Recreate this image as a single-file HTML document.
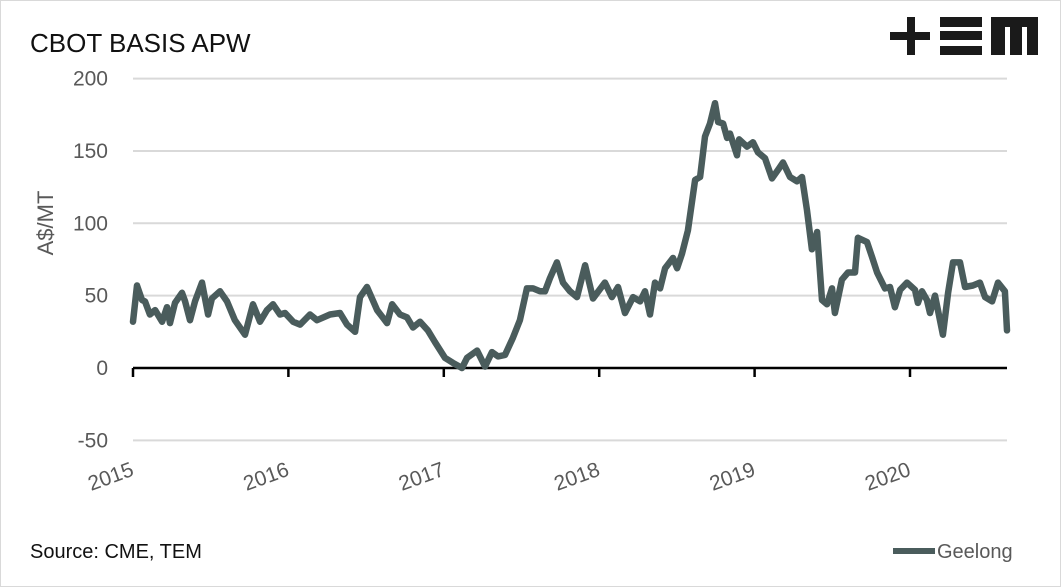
<!DOCTYPE html>
<html><head><meta charset="utf-8"><style>
body{margin:0;background:#fff;}
svg{display:block;font-family:"Liberation Sans",sans-serif;}
</style></head><body>
<svg id="chart" width="1061" height="587" viewBox="0 0 1061 587">
<rect x="0.5" y="0.5" width="1060" height="586" fill="#fff" stroke="#d9d9d9"/>
<text x="30" y="52" font-size="26" fill="#111">CBOT BASIS APW</text>
<g fill="#1a1a1a">
<rect x="890" y="32" width="40" height="8"/><rect x="907" y="17" width="8" height="38"/>
<rect x="940" y="17" width="42" height="10"/><rect x="940" y="31" width="42" height="9"/><rect x="940" y="46" width="42" height="9"/>
<path d="M991 17H1038V55H1027V27H1022V55H1010V27H1005V55H991Z"/>
</g>
<g id="grid"></g>
<g id="yticks" font-size="21" fill="#595959" text-anchor="end"></g>
<text transform="translate(53,223) rotate(-90)" font-size="22" fill="#595959" text-anchor="middle">A$/MT</text>
<g id="xaxis"></g>
<g id="xticks" font-size="21" fill="#595959" text-anchor="end"></g>
<g id="series"></g>
<text x="30" y="558" font-size="20" fill="#111">Source: CME, TEM</text>
<g>
<line x1="893" y1="551" x2="935" y2="551" stroke="#4a5c5c" stroke-width="6"/>
<text x="937" y="558" font-size="20" fill="#595959">Geelong</text>
</g>
</svg>
<script>
const yTicks=[200,150,100,50,0,-50];
const xTickLabels=["2015","2016","2017","2018","2019","2020"];
const dates=[2015.000,2015.026,2015.058,2015.077,2015.109,2015.142,2015.187,2015.219,2015.238,2015.270,2015.315,2015.335,2015.367,2015.399,2015.444,2015.483,2015.508,2015.560,2015.605,2015.656,2015.721,2015.772,2015.817,2015.862,2015.901,2015.946,2015.978,2016.030,2016.075,2016.139,2016.184,2016.268,2016.332,2016.377,2016.429,2016.461,2016.506,2016.571,2016.635,2016.667,2016.718,2016.763,2016.802,2016.847,2016.898,2016.943,2017.008,2017.059,2017.117,2017.149,2017.214,2017.265,2017.310,2017.349,2017.394,2017.445,2017.490,2017.535,2017.574,2017.619,2017.651,2017.683,2017.728,2017.767,2017.812,2017.857,2017.909,2017.960,2018.037,2018.082,2018.121,2018.166,2018.218,2018.263,2018.295,2018.327,2018.359,2018.392,2018.424,2018.475,2018.501,2018.533,2018.571,2018.617,2018.649,2018.681,2018.713,2018.745,2018.765,2018.797,2018.823,2018.842,2018.887,2018.900,2018.951,2018.990,2019.022,2019.067,2019.112,2019.151,2019.183,2019.228,2019.273,2019.305,2019.337,2019.369,2019.402,2019.434,2019.466,2019.498,2019.517,2019.562,2019.601,2019.646,2019.665,2019.723,2019.755,2019.788,2019.839,2019.871,2019.903,2019.936,2019.981,2020.032,2020.051,2020.077,2020.109,2020.129,2020.161,2020.212,2020.245,2020.277,2020.322,2020.354,2020.405,2020.450,2020.483,2020.528,2020.566,2020.611,2020.624];
const geelong=[32,57,47,46,37,40,32,42,31,45,52,46,33,46,59,37,48,53,46,33,23,44,32,40,44,37,38,32,30,37,33,37,38,30,25,49,56,40,31,44,37,35,28,32,26,18,7,3.5,0,7,12,1,11,8,9,21,33,55,55,53,53,62,73,59,53,49,71,48,59,49,56,38,49,46,53,37,59,55,69,76,69,79,95,130,132,160,169,183,170,169,159,162,147,158,153,156,149,145,131,137,142,132,129,132,109,82,94,47,44,55,38,61,66,66,90,87,77,66,55,56,42,54,59,54,45,53,47,38,50,23,52,73,73,56,57,59,49,46,59,53,26];
const NS="http://www.w3.org/2000/svg";
const X0=133,X1=1007,Y0=368,PXY=155.4,PXV=1.447;
function xs(d){return X0+(d-2015)*PXY;}
function ys(v){return Y0-v*PXV;}
function mk(tag,attrs,parent){const e=document.createElementNS(NS,tag);for(const k in attrs)e.setAttribute(k,attrs[k]);parent.appendChild(e);return e;}
const grid=document.getElementById('grid'),yt=document.getElementById('yticks');
yTicks.forEach(v=>{
  if(v!==0){const l=mk('line',{x1:X0,x2:X1,y1:ys(v),y2:ys(v),stroke:'#d9d9d9','stroke-width':2},grid);
  
  }
  const t=mk('text',{x:108,y:ys(v)+7},yt);t.textContent=v;
  
  
});
const xa=document.getElementById('xaxis');
const ax=mk('line',{x1:X0,x2:X1,y1:Y0,y2:Y0,stroke:'#000','stroke-width':2.5},xa);


const xt=document.getElementById('xticks');
xTickLabels.forEach((lab,i)=>{
  const x=xs(2015+i);
  const tk=mk('line',{x1:x,x2:x,y1:Y0,y2:Y0+9,stroke:'#000','stroke-width':2.5},xa);
  
  
  const t=mk('text',{transform:`translate(${x+2},475) rotate(-20)`},xt);t.textContent=lab;
  
  
});
const pts=dates.map((d,i)=>xs(d).toFixed(1)+','+ys(geelong[i]).toFixed(1)).join(' ');
const pl=mk('polyline',{points:pts,fill:'none',stroke:'#4a5c5c','stroke-width':6.5,'stroke-linejoin':'round','stroke-linecap':'round'},document.getElementById('series'));


</script>
</body></html>
